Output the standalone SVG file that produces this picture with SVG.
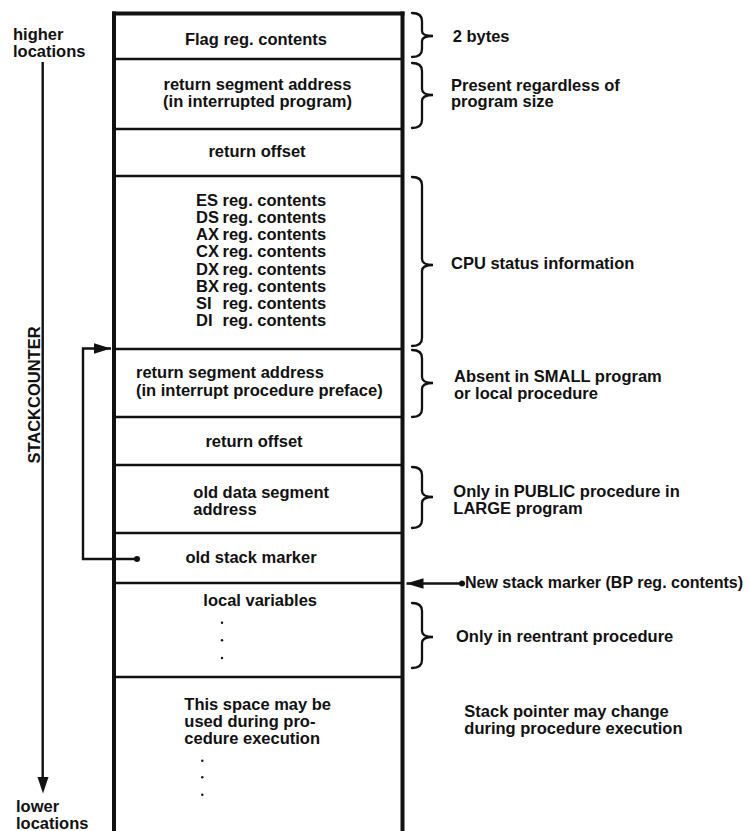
<svg xmlns="http://www.w3.org/2000/svg" width="750" height="831" viewBox="0 0 750 831">
<style>
  text { font-family: "Liberation Sans", Arial, sans-serif; font-weight: bold; font-size: 16.5px; fill: #111; }
  .c { text-anchor: middle; }
  .frame { stroke: #111; stroke-width: 4; fill: none; }
  .div { stroke: #111; stroke-width: 2.5; fill: none; }
  .brace { stroke: #111; stroke-width: 2.3; fill: none; stroke-linecap: round; }
  .conn { stroke: #111; stroke-width: 2.4; fill: none; }
  .dot { fill: #111; }
</style>
<defs>
  <marker id="ahBig" viewBox="0 0 16 10" refX="16" refY="5" markerWidth="17" markerHeight="11" markerUnits="userSpaceOnUse" orient="auto">
    <path d="M0,0 L16,5 L0,10 Z" fill="#111"/>
  </marker>
</defs>
<rect width="750" height="831" fill="#fff"/>

<g id="axis">
  <text x="13" y="40">higher</text>
  <text x="13" y="56.7">locations</text>
  <line x1="42.7" y1="62" x2="42.7" y2="780" class="conn"/>
  <polygon points="37.5,777 48.5,777 43,793.5" fill="#111"/>
  <text class="c" transform="translate(40,395) rotate(-90)">STACKCOUNTER</text>
  <text x="16" y="811.5">lower</text>
  <text x="16" y="828.7">locations</text>
</g>

<g id="stack-frame">
  <line x1="114" y1="11.5" x2="114" y2="831" class="frame"/>
  <line x1="112" y1="13.5" x2="404.5" y2="13.5" class="frame"/>
  <line x1="402.5" y1="11.5" x2="402.5" y2="831" class="frame"/>
</g>

<g id="dividers">
  <line x1="114" y1="59" x2="402" y2="59" class="div"/>
  <line x1="114" y1="129" x2="402" y2="129" class="div"/>
  <line x1="114" y1="176" x2="402" y2="176" class="div"/>
  <line x1="114" y1="349" x2="402" y2="349" class="div"/>
  <line x1="114" y1="417" x2="402" y2="417" class="div"/>
  <line x1="114" y1="465" x2="402" y2="465" class="div"/>
  <line x1="114" y1="533" x2="402" y2="533" class="div"/>
  <line x1="114" y1="583" x2="402" y2="583" class="div"/>
  <line x1="114" y1="677" x2="402" y2="677" class="div"/>
</g>

<g id="cell-flag"><text class="c" x="256" y="44.5">Flag reg. contents</text></g>
<g id="cell-retseg1">
  <text class="c" x="257.5" y="90">return segment address</text>
  <text class="c" x="257.5" y="107">(in interrupted program)</text>
</g>
<g id="cell-retoff1"><text class="c" x="257" y="157">return offset</text></g>
<g id="cell-regs">
  <text x="196" y="205.7">ES</text><text x="222.5" y="205.7">reg. contents</text>
  <text x="196" y="222.9">DS</text><text x="222.5" y="222.9">reg. contents</text>
  <text x="196" y="240.1">AX</text><text x="222.5" y="240.1">reg. contents</text>
  <text x="196" y="257.3">CX</text><text x="222.5" y="257.3">reg. contents</text>
  <text x="196" y="274.5">DX</text><text x="222.5" y="274.5">reg. contents</text>
  <text x="196" y="291.7">BX</text><text x="222.5" y="291.7">reg. contents</text>
  <text x="196" y="308.9">SI</text><text x="222.5" y="308.9">reg. contents</text>
  <text x="196" y="326.1">DI</text><text x="222.5" y="326.1">reg. contents</text>
</g>
<g id="cell-retseg2">
  <text x="136" y="378.3">return segment address</text>
  <text x="136" y="395.7">(in interrupt procedure preface)</text>
</g>
<g id="cell-retoff2"><text class="c" x="254" y="446.7">return offset</text></g>
<g id="cell-olddata">
  <text x="193.3" y="498.3">old data segment</text>
  <text x="193.3" y="515">address</text>
</g>
<g id="cell-oldstack"><text class="c" x="251" y="563.3">old stack marker</text></g>
<g id="cell-locals">
  <text x="203.3" y="606">local variables</text>
  <circle cx="222" cy="622.7" r="1.2" class="dot"/>
  <circle cx="222" cy="640.3" r="1.2" class="dot"/>
  <circle cx="222" cy="658" r="1.2" class="dot"/>
</g>
<g id="cell-space">
  <text x="184.3" y="710">This space may be</text>
  <text x="184.3" y="727.3">used during pro-</text>
  <text x="184.3" y="744">cedure execution</text>
  <circle cx="202.3" cy="760.7" r="1.2" class="dot"/>
  <circle cx="202.3" cy="777.3" r="1.2" class="dot"/>
  <circle cx="202.3" cy="794.7" r="1.2" class="dot"/>
</g>

<g id="braces">
  <path class="brace" d="M412,13 Q422,13 422,21 L422,31 Q422,36 433,36 Q422,36 422,41 L422,49 Q422,57 412,57"/>
  <path class="brace" d="M412,63 Q422,63 422,71 L422,89 Q422,95 433,95 Q422,95 422,101 L422,120 Q422,128 412,128"/>
  <path class="brace" d="M412,177 Q422,177 422,185 L422,259 Q422,265 433,265 Q422,265 422,271 L422,338 Q422,346 412,346"/>
  <path class="brace" d="M412,350 Q422,350 422,358 L422,377 Q422,383 433,383 Q422,383 422,389 L422,409 Q422,417 412,417"/>
  <path class="brace" d="M412,467 Q422,467 422,475 L422,491 Q422,497 433,497 Q422,497 422,503 L422,520 Q422,528 412,528"/>
  <path class="brace" d="M412,603 Q422,603 422,611 L422,631 Q422,637 433,637 Q422,637 422,643 L422,660 Q422,668 412,668"/>
</g>

<g id="notes">
  <text x="452.7" y="41.7">2 bytes</text>
  <text x="451" y="90.7">Present regardless of</text>
  <text x="451" y="107.3">program size</text>
  <text x="451" y="269">CPU status information</text>
  <text x="454" y="381.7">Absent in SMALL program</text>
  <text x="454" y="399.3">or local procedure</text>
  <text x="453.3" y="496.7">Only in PUBLIC procedure in</text>
  <text x="453.3" y="514.3">LARGE program</text>
  <text x="465" y="588.3" style="font-size:16px">New stack marker (BP reg. contents)</text>
  <text x="456" y="641.7">Only in reentrant procedure</text>
  <text x="464.3" y="716.7">Stack pointer may change</text>
  <text x="464.3" y="734">during procedure execution</text>
</g>

<g id="connectors">
  <polyline class="conn" points="137,559 83,559 83,348.5 111,348.5" marker-end="url(#ahBig)"/>
  <circle cx="137" cy="559" r="3" class="dot"/>
  <line class="conn" x1="462" y1="583.5" x2="406.5" y2="583.5" marker-end="url(#ahBig)"/>
  <circle cx="462" cy="583.5" r="3" class="dot"/>
</g>
</svg>
